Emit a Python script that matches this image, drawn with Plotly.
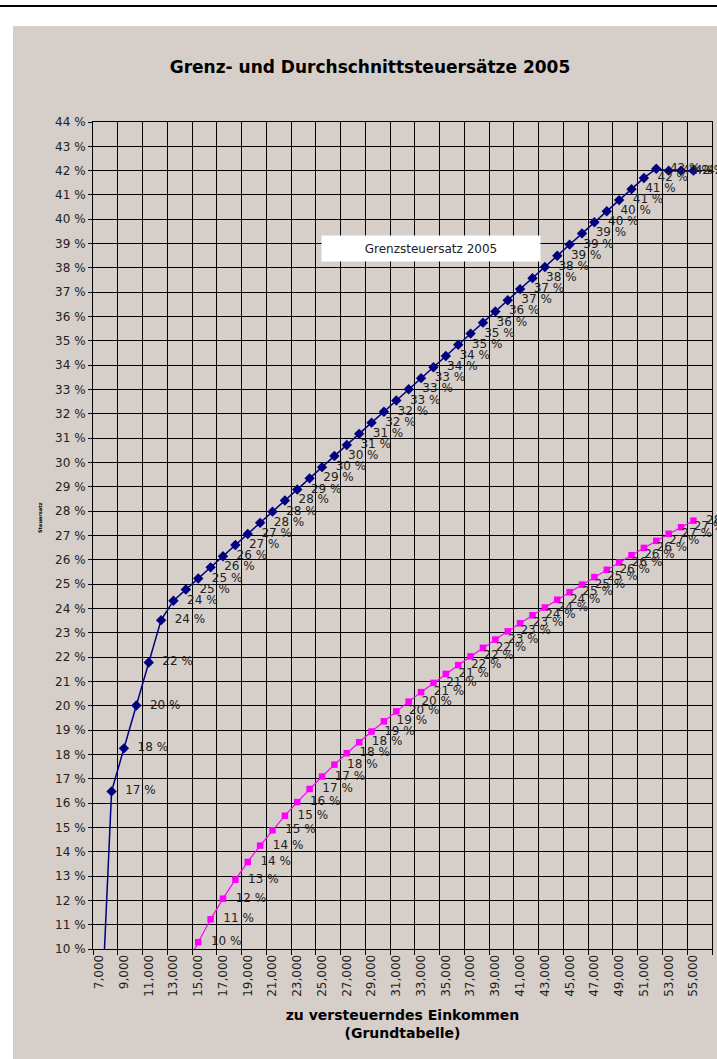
import plotly.graph_objects as go

# ---- data ----
einkommen = [7000, 8000, 9000, 10000, 11000, 12000, 13000, 14000, 15000, 16000,
             17000, 18000, 19000, 20000, 21000, 22000, 23000, 24000, 25000, 26000,
             27000, 28000, 29000, 30000, 31000, 32000, 33000, 34000, 35000, 36000,
             37000, 38000, 39000, 40000, 41000, 42000, 43000, 44000, 45000, 46000,
             47000, 48000, 49000, 50000, 51000, 52000, 53000, 54000, 55000]

grenzsteuersatz = [5.14, 16.48, 18.25, 20.01, 21.78, 23.52, 24.32, 24.78, 25.23, 25.69,
                   26.15, 26.61, 27.06, 27.52, 27.98, 28.44, 28.89, 29.35, 29.81, 30.27,
                   30.72, 31.18, 31.64, 32.09, 32.55, 33.01, 33.47, 33.92, 34.38, 34.84,
                   35.30, 35.75, 36.21, 36.67, 37.13, 37.58, 38.04, 38.50, 38.96, 39.42,
                   39.88, 40.33, 40.79, 41.24, 41.70, 42.08, 42.00, 42.00, 42.00]

grenz_labels = [5, 17, 18, 20, 22, 24, 24, 25, 25, 26,
                26, 27, 27, 28, 28, 28, 29, 29, 30, 30,
                31, 31, 32, 32, 33, 33, 33, 34, 34, 35,
                35, 36, 36, 37, 37, 38, 38, 39, 39, 39,
                40, 40, 41, 41, 42, 42, 42, 42, 42]

durchschnittsteuersatz = [None, None, None, None, None, None, None, 9.25, 10.28, 11.22,
                          12.07, 12.85, 13.58, 14.25, 14.88, 15.48, 16.04, 16.58, 17.09, 17.58,
                          18.05, 18.50, 18.94, 19.36, 19.77, 20.17, 20.56, 20.94, 21.31, 21.67,
                          22.03, 22.38, 22.72, 23.06, 23.39, 23.72, 24.04, 24.36, 24.67, 24.98,
                          25.29, 25.59, 25.89, 26.19, 26.49, 26.78, 27.07, 27.34, 27.61]

durch_labels = [None, None, None, None, None, None, None, 9, 10, 11,
                12, 13, 14, 14, 15, 15, 16, 17, 17, 18,
                18, 18, 19, 19, 20, 20, 21, 21, 21, 22,
                22, 22, 23, 23, 23, 24, 24, 24, 25, 25,
                25, 26, 26, 26, 26, 27, 27, 27, 28]

x_tick_labels = ["7,000", "9,000", "11,000", "13,000", "15,000", "17,000", "19,000",
                 "21,000", "23,000", "25,000", "27,000", "29,000", "31,000", "33,000",
                 "35,000", "37,000", "39,000", "41,000", "43,000", "45,000", "47,000",
                 "49,000", "51,000", "53,000", "55,000"]

Y_MIN, Y_MAX = 10, 44
NAVY = "#000080"
PINK = "#FF00FF"
TXT = "#222222"
FONT = "DejaVu Sans, Verdana, sans-serif"


def visible(vals):
    return [v if (v is not None and v >= Y_MIN) else None for v in vals]


def label_text(vals, labels):
    return ["\u00a0\u00a0%d %%" % l if (v is not None and v >= Y_MIN) else ""
            for v, l in zip(vals, labels)]


fig = go.Figure()

# lines (clipped to plot area)
fig.add_trace(go.Scatter(x=einkommen, y=grenzsteuersatz, mode="lines",
                         line=dict(color=NAVY, width=1.5), cliponaxis=True,
                         hoverinfo="skip", showlegend=False))
fig.add_trace(go.Scatter(x=einkommen, y=durchschnittsteuersatz, mode="lines",
                         line=dict(color=PINK, width=1.2), cliponaxis=True,
                         hoverinfo="skip", showlegend=False, connectgaps=False))

# markers + data labels
fig.add_trace(go.Scatter(x=einkommen, y=visible(durchschnittsteuersatz), mode="markers+text",
                         marker=dict(symbol="square", size=6.5, color=PINK),
                         text=label_text(durchschnittsteuersatz, durch_labels),
                         textposition="middle right",
                         textfont=dict(family=FONT, size=12, color=TXT),
                         cliponaxis=False, hoverinfo="skip", showlegend=False))
fig.add_trace(go.Scatter(x=einkommen, y=visible(grenzsteuersatz), mode="markers+text",
                         marker=dict(symbol="diamond", size=8, color=NAVY),
                         text=label_text(grenzsteuersatz, grenz_labels),
                         textposition="middle right",
                         textfont=dict(family=FONT, size=12, color=TXT),
                         cliponaxis=False, hoverinfo="skip", showlegend=False))

L, R, T, B = 93, 5, 122, 110
W, H = 717, 1059
pw = W - L - R
ph = H - T - B


def px_x(p):
    return (p - L) / pw


def px_y(p):
    return (H - B - p) / ph


fig.update_layout(
    width=W, height=H,
    margin=dict(l=L, r=R, t=T, b=B),
    paper_bgcolor="white",
    plot_bgcolor="#C0C0C0",
    font=dict(family=FONT, size=12, color=TXT),
    title=dict(text="<b>Grenz- und Durchschnittsteuersätze 2005</b>",
               x=370 / W, xanchor="center", y=1 - 67 / H, yanchor="middle",
               font=dict(family=FONT, size=17, color="black")),
    xaxis=dict(range=[6500, 56500], tickmode="array",
               tickvals=einkommen[::2], ticktext=x_tick_labels,
               tickangle=-90, ticks="", showgrid=False, zeroline=False,
               showline=True, linecolor="black", linewidth=1, mirror=True,
               tickfont=dict(family=FONT, size=12, color=TXT),
               minor=dict(tick0=6500, dtick=2000, showgrid=True, gridcolor="black",
                          gridwidth=1, ticks="outside", ticklen=5, tickcolor="black"),
               title=dict(text="<b>zu versteuerndes Einkommen<br>(Grundtabelle)</b>",
                          font=dict(family=FONT, size=14, color="black"), standoff=14)),
    yaxis=dict(range=[Y_MIN, Y_MAX], tick0=10, dtick=1, ticksuffix=" %",
               showgrid=True, gridcolor="black", gridwidth=1, zeroline=False,
               ticks="outside", ticklen=4, tickcolor="black",
               showline=True, linecolor="black", linewidth=1, mirror=True,
               tickfont=dict(family=FONT, size=12, color=TXT)),
    shapes=[
        dict(type="rect", xref="paper", yref="paper", layer="below",
             x0=px_x(13), x1=px_x(W + 2), y0=px_y(H + 2), y1=px_y(26),
             fillcolor="#D6CEC8", line=dict(width=0)),
        dict(type="line", xref="paper", yref="paper",
             x0=px_x(0), x1=px_x(W), y0=px_y(6), y1=px_y(6),
             line=dict(color="black", width=2)),
    ],
    annotations=[
        dict(text="Grenzsteuersatz 2005", xref="paper", yref="paper",
             x=px_x(431), y=px_y(248.5), xanchor="center", yanchor="middle",
             showarrow=False, bgcolor="white", width=214, height=21, borderpad=2,
             font=dict(family=FONT, size=12, color=TXT)),
        dict(text="<b>Steuersatz</b>", xref="paper", yref="paper",
             x=px_x(40), y=px_y(518), textangle=-90, showarrow=False,
             xanchor="center", yanchor="middle",
             font=dict(family=FONT, size=5, color="black")),
    ],
)

fig.write_html("out.html",
               config={"displayModeBar": False},
               post_script="document.body.style.margin='0';document.body.style.overflow='hidden';")
